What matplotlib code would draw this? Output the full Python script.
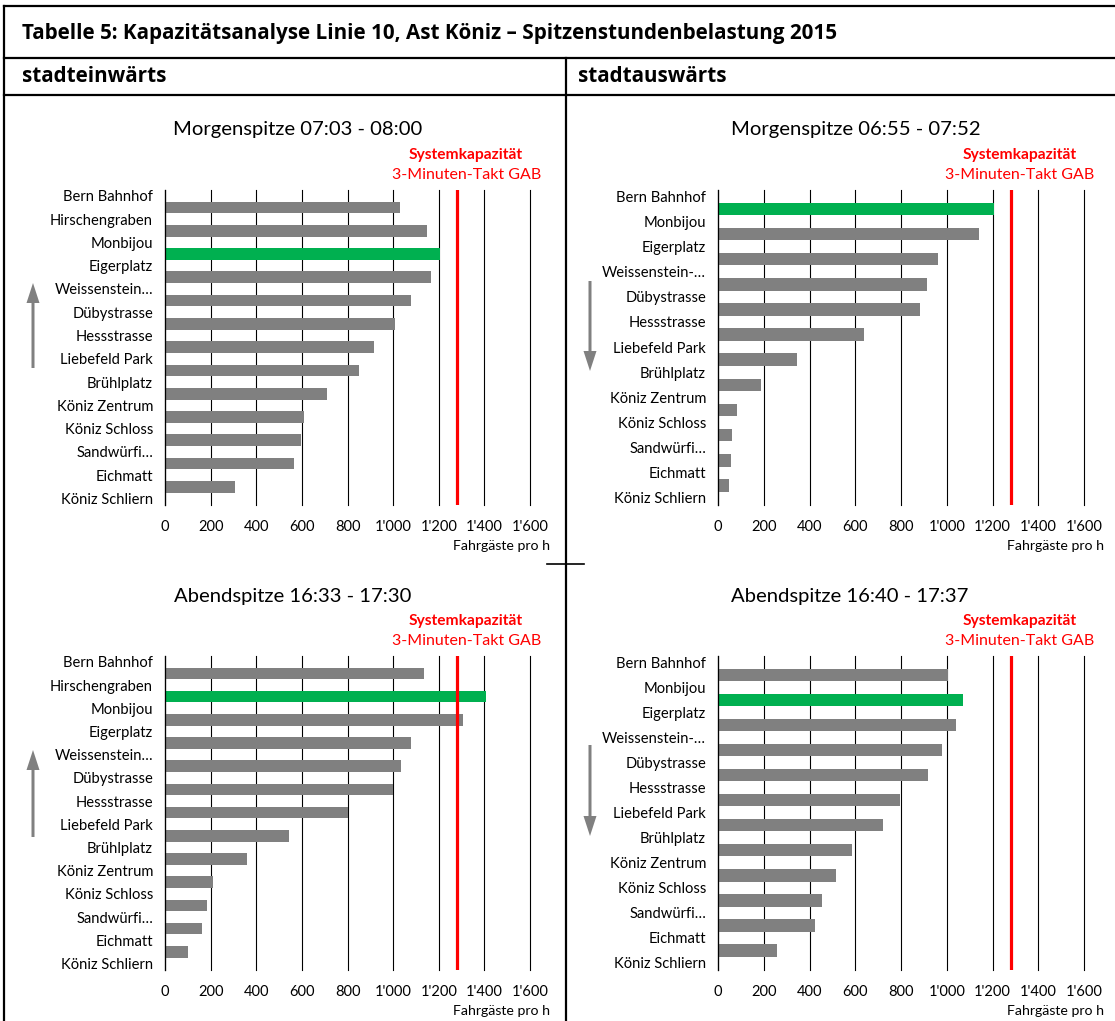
import numpy as np
import matplotlib
matplotlib.use("Agg")
import matplotlib.pyplot as plt
from matplotlib.patches import FancyArrow

plt.rcParams["font.family"] = ["Lato", "DejaVu Sans"]

W, H = 1115, 1021

# Haltestellen (oben = Bern Bahnhof)
stops_in = ["Bern Bahnhof", "Hirschengraben", "Monbijou", "Eigerplatz", "Weissenstein…",
            "Dübystrasse", "Hessstrasse", "Liebefeld Park", "Brühlplatz", "Köniz Zentrum",
            "Köniz Schloss", "Sandwürfi…", "Eichmatt", "Köniz Schliern"]
stops_out = ["Bern Bahnhof", "Monbijou", "Eigerplatz", "Weissenstein-…", "Dübystrasse",
             "Hessstrasse", "Liebefeld Park", "Brühlplatz", "Köniz Zentrum", "Köniz Schloss",
             "Sandwürfi…", "Eichmatt", "Köniz Schliern"]

# Fahrgäste pro h je Abschnitt (zwischen zwei Haltestellen)
morning_in = [1030, 1150, 1205, 1165, 1080, 1010, 915, 850, 710, 610, 595, 565, 305]
morning_out = [1205, 1140, 960, 915, 885, 640, 345, 190, 85, 60, 55, 50]
evening_in = [1135, 1405, 1305, 1080, 1035, 1000, 800, 545, 360, 210, 185, 160, 100]
evening_out = [1005, 1070, 1040, 980, 920, 795, 720, 585, 515, 455, 425, 260]

capacity = 1280
xticks = [0, 200, 400, 600, 800, 1000, 1200, 1400, 1600]

titles = ["Morgenspitze 07:03 - 08:00", "Morgenspitze 06:55 - 07:52",
          "Abendspitze 16:33 - 17:30", "Abendspitze 16:40 - 17:37"]

GREY = "#808080"
GREEN = "#00B050"
RED = "#FF0000"
HEAD_FONT = ["Open Sans", "DejaVu Sans"]

fig = plt.figure(figsize=(W / 100, H / 100), dpi=100)

# Hintergrund-Achse in Pixelkoordinaten für Tabelle, Texte, Pfeile
bg = fig.add_axes([0, 0, 1, 1])
bg.set_xlim(0, W)
bg.set_ylim(H, 0)
bg.axis("off")

lw_border = 1.6
bg.plot([4, 4], [6, H], color="black", lw=lw_border)
bg.plot([4, W], [6, 6], color="black", lw=lw_border)
bg.plot([4, W], [58, 58], color="black", lw=lw_border)
bg.plot([4, W], [95, 95], color="black", lw=lw_border)
bg.plot([566, 566], [58, H], color="black", lw=lw_border)
bg.plot([547, 584], [564, 564], color="black", lw=1.2)

bg.text(22, 33, "Tabelle 5: Kapazitätsanalyse Linie 10, Ast Köniz – Spitzenstundenbelastung 2015",
        fontsize=14.9, fontweight="bold", family=HEAD_FONT, va="center", ha="left")
bg.text(22, 77, "stadteinwärts", fontsize=14.9, fontweight="bold", family=HEAD_FONT,
        va="center", ha="left")
bg.text(578, 77, "stadtauswärts", fontsize=14.9, fontweight="bold", family=HEAD_FONT,
        va="center", ha="left")

# Panels: (left, right, top, bottom) in Pixel
panels = [
    (165, 530, 190, 505, stops_in, morning_in, titles[0], 298, 130),
    (718, 1084, 190, 505, stops_out, morning_out, titles[1], 856, 130),
    (165, 530, 656, 970, stops_in, evening_in, titles[2], 293, 596),
    (718, 1084, 656, 970, stops_out, evening_out, titles[3], 850, 596),
]

for left, right, top, bottom, stops, values, title, tx, ty in panels:
    ax = fig.add_axes([left / W, 1 - bottom / H, (right - left) / W, (bottom - top) / H])
    n = len(stops)
    pos = np.arange(len(values)) + 0.5
    colors = [GREEN if i == int(np.argmax(values)) else GREY for i in range(len(values))]
    ax.barh(pos, values, height=0.5, color=colors, zorder=2)
    ax.axvline(capacity, color=RED, lw=2.3, zorder=3)

    ax.set_xlim(0, 1600)
    ax.set_ylim(n - 1 + 0.28, -0.25)
    ax.set_xticks(xticks)
    ax.set_xticklabels([f"{v:,}".replace(",", "'") for v in xticks], fontsize=10.5)
    ax.set_yticks(np.arange(n))
    ax.set_yticklabels(stops, fontsize=10.6)
    ax.tick_params(length=0)
    ax.tick_params(axis="y", pad=8.6)
    ax.tick_params(axis="x", pad=11)
    ax.grid(axis="x", color="black", lw=0.8, zorder=1)
    for gl in ax.get_xgridlines():
        gl.set_clip_on(False)
    for side in ["top", "right", "bottom"]:
        ax.spines[side].set_visible(False)
    ax.spines["left"].set_color("black")
    ax.spines["left"].set_linewidth(0.9)
    ax.spines["left"].set_zorder(4)

    bg.text(tx, ty, title, fontsize=14.6, ha="center", va="center")
    cx = left + (right - left) * (capacity + 40) / 1600
    bg.text(cx, top - 35, "Systemkapazität", fontsize=11.2, fontweight="bold",
            color=RED, ha="center", va="center")
    bg.text(cx, top - 15, "3-Minuten-Takt GAB", fontsize=11.5, color=RED,
            ha="center", va="center")
    bg.text(right + 20, bottom + 41, "Fahrgäste pro h", fontsize=10.2,
            ha="right", va="center")

# Fahrtrichtung
arrows = [(33, 368, -85), (590, 281, 90), (33, 837, -87), (590, 745, 91)]
for x, y, dy in arrows:
    bg.add_patch(FancyArrow(x, y, 0, dy, width=3, head_width=13, head_length=20,
                            length_includes_head=True, color=GREY, lw=0))

fig.savefig("out.png", dpi=100)
